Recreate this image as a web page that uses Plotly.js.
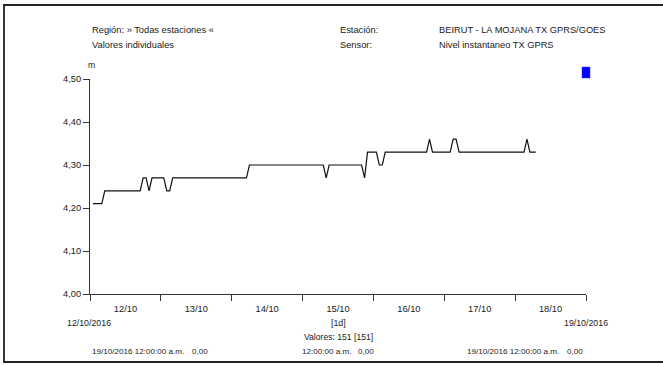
<!DOCTYPE html>
<html><head><meta charset="utf-8">
<script src="https://cdn.plot.ly/plotly-3.0.1.min.js"></script>
<style>html,body{margin:0;padding:0;background:#fff}#c{width:663px;height:365px}</style>
</head><body><div id="c"></div>
<script>
// Series: hourly instantaneous level (m), 151 values starting 12/10/2016 01:00
const startTime = '2016-10-12 01:00';
const stepMs = 3600000;
const levels = [
 4.21,4.21,4.21,4.21,
 4.24,4.24,4.24,4.24,4.24,4.24,4.24,4.24,4.24,4.24,4.24,4.24,4.24,
 4.27,4.27,
 4.24,
 4.27,4.27,4.27,4.27,4.27,
 4.24,4.24,
 4.27,4.27,4.27,4.27,4.27,4.27,4.27,4.27,4.27,4.27,4.27,4.27,4.27,4.27,4.27,4.27,4.27,4.27,4.27,4.27,4.27,4.27,4.27,4.27,4.27,4.27,
 4.30,4.30,4.30,4.30,4.30,4.30,4.30,4.30,4.30,4.30,4.30,4.30,4.30,4.30,4.30,4.30,4.30,4.30,4.30,4.30,4.30,4.30,4.30,4.30,4.30,4.30,
 4.27,
 4.30,4.30,4.30,4.30,4.30,4.30,4.30,4.30,4.30,4.30,4.30,4.30,
 4.27,
 4.33,4.33,4.33,4.33,
 4.30,4.30,
 4.33,4.33,4.33,4.33,4.33,4.33,4.33,4.33,4.33,4.33,4.33,4.33,4.33,4.33,4.33,
 4.36,
 4.33,4.33,4.33,4.33,4.33,4.33,4.33,
 4.36,4.36,
 4.33,4.33,4.33,4.33,4.33,4.33,4.33,4.33,4.33,4.33,4.33,4.33,4.33,4.33,4.33,4.33,4.33,4.33,4.33,4.33,4.33,4.33,4.33,
 4.36,
 4.33,4.33,4.33
];
const xRange = ['2016-10-12 00:00', '2016-10-19 00:00'];
const yRange = [4.0, 4.5];

const headerLeft = ['Región: » Todas estaciones «', 'Valores individuales'];
const headerMid = ['Estación:', 'Sensor:'];
const headerRight = ['BEIRUT - LA MOJANA TX GPRS/GOES', 'Nivel instantaneo TX GPRS'];
const unitLabel = 'm';
const startLabel = '12/10/2016';
const endLabel = '19/10/2016';
const intervalLabel = '[1d]';
const countLabel = 'Valores: 151 [151]';
const footerTimes = ['19/10/2016 12:00:00 a.m.', '12:00:00 a.m.', '19/10/2016 12:00:00 a.m.'];
const footerValues = ['0,00', '0,00', '0,00'];

const FONT = '"Liberation Sans", Arial, sans-serif';
const L = 90, T = 79, W = 496, H = 215;
const px = x => (x - L) / W;
const py = y => (T + H - y) / H;
const fs = 9.3, col = '#1a1a1a';

function ann(text, x, y, xa, size) {
  return {text: text, xref: 'paper', yref: 'paper', x: px(x), y: py(y), xanchor: xa || 'left', yanchor: 'middle',
    showarrow: false, font: {family: FONT, size: size || fs, color: col}};
}

const annotations = [
  ann(headerLeft[0], 90, 30), ann(headerLeft[1], 90, 45),
  ann(headerMid[0], 338, 30), ann(headerMid[1], 338, 45),
  ann(headerRight[0], 437, 30), ann(headerRight[1], 437, 45),
  ann(unitLabel, 91, 65, 'center', 8.6),
  ann(startLabel, 89, 323, 'center', 8.8), ann(endLabel, 586, 323, 'center', 8.8),
  ann(intervalLabel, 338, 323, 'center', 8.8), ann(countLabel, 338, 337, 'center', 8.6),
  ann(footerTimes[0], 90, 351, 'left', 8.1), ann(footerValues[0], 210, 351, 'right', 8.1),
  ann(footerTimes[1], 300, 351, 'left', 8.1), ann(footerValues[1], 376, 351, 'right', 8.1),
  ann(footerTimes[2], 465, 351, 'left', 8.1), ann(footerValues[2], 585, 351, 'right', 8.1)
];

const shapes = [
  {type: 'rect', xref: 'paper', yref: 'paper', x0: px(4), x1: px(665), y0: py(362), y1: py(5),
   line: {color: '#222', width: 1.8}, layer: 'below'},
  {type: 'rect', xref: 'paper', yref: 'paper', x0: px(582), x1: px(590), y0: py(78), y1: py(67),
   line: {color: '#3030ff', width: 0.5}, fillcolor: '#0000ff'}
];

const trace = {
  type: 'scatter', mode: 'lines', x0: startTime, dx: stepMs, y: levels,
  line: {color: '#111', width: 1.2}, hoverinfo: 'skip'
};

const layout = {
  width: 663, height: 365,
  margin: {l: L, r: 663 - L - W, t: T, b: 365 - T - H, pad: 0},
  paper_bgcolor: '#fff', plot_bgcolor: '#fff',
  separators: ',.', showlegend: false,
  font: {family: FONT, size: fs, color: col},
  xaxis: {type: 'date', range: xRange, showgrid: false, zeroline: false, showline: true,
    linecolor: '#333', linewidth: 1, ticks: 'outside', ticklen: 6, tickcolor: '#333', tickwidth: 1,
    tick0: '2016-10-12', dtick: 86400000, tickformat: '%d/%m', ticklabelmode: 'period',
    tickfont: {family: FONT, size: fs, color: col}, fixedrange: true},
  yaxis: {range: yRange, showgrid: false, zeroline: false, showline: true,
    linecolor: '#333', linewidth: 1, ticks: 'outside', ticklen: 6, tickcolor: '#333', tickwidth: 1,
    dtick: 0.1, tick0: 4, tickformat: '.2f', tickfont: {family: FONT, size: fs, color: col}, fixedrange: true},
  annotations: annotations, shapes: shapes
};

Plotly.newPlot('c', [trace], layout, {staticPlot: true, displayModeBar: false});
</script></body></html>
